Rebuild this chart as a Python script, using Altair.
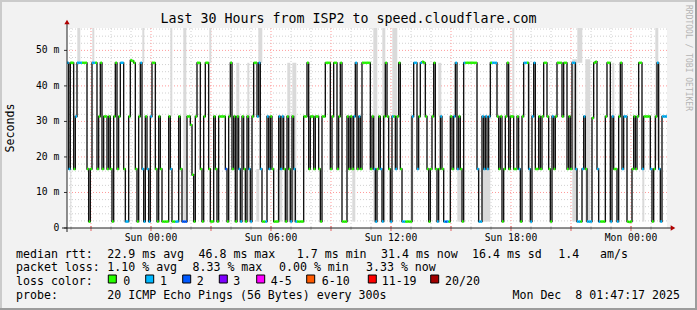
import altair as alt
import pandas as pd

# ---------------- data ----------------
# median RTT per 300 s sample (ms), 360 samples = 30 h
median_ms = [
    46.5, 16.6, 46.5, 46.5, 16.6, 31.4, 46.5, 46.5, 46.5, 46.5,
    46.5, 46.5, 16.6, 1.8, 16.6, 46.5, 46.5, 46.5, 16.6, 31.4,
    46.5, 16.6, 31.4, 31.4, 16.6, 31.4, 16.6, 1.8, 31.4, 46.5,
    16.6, 31.4, 46.5, 46.5, 16.6, 1.8, 1.8, 31.4, 47.2, 47.0,
    46.5, 16.6, 1.8, 31.4, 46.5, 16.6, 1.8, 31.4, 16.6, 1.8,
    31.4, 46.5, 46.5, 16.6, 1.8, 31.4, 16.6, 1.8, 1.8, 1.8,
    1.8, 31.4, 16.6, 1.8, 1.8, 1.8, 1.8, 31.4, 16.6, 1.8,
    1.8, 1.8, 31.4, 31.4, 29.0, 15.0, 1.8, 31.4, 46.5, 46.5,
    16.6, 1.8, 31.4, 46.5, 46.5, 16.6, 1.8, 1.8, 31.4, 16.6,
    1.8, 31.4, 31.4, 31.4, 31.4, 16.6, 1.8, 31.4, 46.5, 16.6,
    31.4, 1.8, 31.4, 16.6, 1.8, 31.4, 16.6, 1.8, 31.4, 16.6,
    1.8, 31.4, 46.5, 46.5, 31.4, 46.5, 16.6, 1.8, 1.8, 1.8,
    31.4, 16.6, 31.4, 16.6, 1.8, 1.8, 1.8, 31.4, 16.6, 31.4,
    16.6, 1.8, 31.4, 16.6, 1.8, 31.4, 16.6, 1.8, 1.8, 1.8,
    1.8, 1.8, 31.4, 31.4, 46.5, 16.6, 31.4, 31.4, 16.6, 31.4,
    31.4, 16.6, 1.8, 31.4, 31.4, 46.5, 46.5, 46.5, 16.6, 31.4,
    46.5, 46.5, 16.6, 31.4, 46.5, 1.8, 1.8, 1.8, 31.4, 16.6,
    31.4, 16.6, 31.4, 46.5, 16.6, 31.4, 16.6, 46.5, 46.5, 46.5,
    46.5, 46.5, 16.6, 31.4, 16.6, 1.8, 16.6, 31.4, 16.6, 1.8,
    31.4, 46.5, 31.4, 16.6, 1.8, 31.4, 31.4, 16.6, 31.4, 46.5,
    16.6, 1.8, 1.8, 1.8, 1.8, 1.8, 1.8, 31.4, 46.5, 46.5,
    16.6, 31.4, 46.5, 46.8, 46.5, 31.4, 16.6, 1.8, 16.6, 31.4,
    46.5, 16.6, 1.8, 16.6, 31.4, 16.6, 1.8, 1.8, 1.8, 1.8,
    31.4, 16.6, 31.4, 46.5, 16.6, 31.4, 16.6, 1.8, 46.5, 46.5,
    46.5, 46.5, 46.5, 46.5, 46.5, 46.5, 16.6, 1.8, 1.8, 31.4,
    16.6, 31.4, 16.6, 31.4, 46.5, 46.5, 46.5, 46.5, 31.4, 16.6,
    31.4, 1.8, 16.6, 31.4, 46.5, 16.6, 31.4, 31.4, 16.6, 16.6,
    31.4, 16.6, 1.8, 31.4, 46.5, 46.5, 46.5, 16.6, 1.8, 31.4,
    46.5, 16.6, 16.6, 31.4, 16.6, 31.4, 46.5, 46.5, 31.4, 16.6,
    1.8, 31.4, 16.6, 31.4, 46.5, 46.5, 46.5, 31.4, 46.5, 46.5,
    16.6, 31.4, 16.6, 46.5, 46.5, 16.6, 1.8, 1.8, 1.8, 16.6,
    31.4, 16.6, 1.8, 1.8, 1.8, 31.0, 46.5, 46.8, 16.6, 1.8,
    1.8, 1.8, 1.8, 31.4, 46.5, 46.5, 1.8, 31.4, 16.6, 16.6,
    1.8, 31.4, 46.5, 16.6, 31.4, 31.4, 1.8, 1.7, 1.8, 16.6,
    31.4, 16.6, 31.4, 46.5, 46.5, 16.6, 31.4, 31.4, 31.4, 31.4,
    16.6, 1.8, 16.6, 31.4, 46.5, 16.6, 1.8, 31.4, 31.4, 31.4,
]

# lost pings (of 20) per sample
loss_count = [
    1, 1, 0, 0, 0, 1, 1, 1, 1, 0,
    0, 0, 0, 0, 0, 1, 1, 0, 0, 0,
    0, 0, 0, 0, 0, 0, 0, 0, 0, 0,
    0, 0, 1, 1, 0, 1, 1, 0, 0, 0,
    0, 0, 0, 0, 1, 1, 1, 0, 1, 1,
    1, 0, 0, 0, 0, 0, 0, 0, 0, 0,
    0, 0, 1, 0, 0, 1, 1, 0, 0, 2,
    2, 2, 0, 0, 0, 0, 0, 0, 0, 0,
    0, 0, 0, 0, 0, 0, 0, 0, 0, 0,
    0, 0, 0, 0, 0, 2, 0, 0, 0, 0,
    0, 0, 0, 1, 1, 0, 0, 0, 0, 1,
    1, 0, 0, 0, 1, 1, 1, 0, 0, 1,
    1, 1, 0, 0, 0, 0, 0, 1, 1, 1,
    0, 0, 0, 0, 1, 0, 1, 1, 0, 0,
    0, 0, 0, 0, 0, 0, 0, 0, 0, 0,
    0, 0, 0, 0, 0, 0, 0, 0, 0, 0,
    0, 0, 0, 0, 0, 0, 0, 0, 0, 0,
    0, 0, 1, 1, 0, 1, 0, 0, 0, 0,
    0, 0, 0, 0, 1, 1, 0, 0, 1, 1,
    0, 0, 0, 0, 1, 1, 0, 1, 0, 0,
    0, 1, 1, 0, 0, 0, 0, 1, 1, 1,
    1, 0, 1, 0, 0, 0, 0, 0, 0, 0,
    0, 0, 1, 0, 1, 0, 1, 2, 1, 0,
    0, 0, 1, 1, 1, 0, 0, 0, 1, 0,
    0, 0, 0, 0, 0, 0, 1, 1, 1, 1,
    1, 1, 1, 1, 0, 1, 1, 1, 0, 0,
    0, 0, 0, 0, 0, 0, 0, 0, 0, 0,
    0, 1, 0, 0, 1, 1, 0, 1, 1, 1,
    1, 0, 0, 0, 0, 0, 0, 0, 0, 0,
    0, 1, 0, 0, 0, 0, 0, 0, 0, 0,
    0, 0, 0, 1, 1, 1, 1, 1, 0, 1,
    1, 0, 1, 1, 1, 0, 0, 0, 1, 1,
    0, 0, 0, 0, 0, 0, 1, 1, 0, 0,
    1, 0, 0, 1, 1, 1, 0, 0, 0, 0,
    0, 0, 0, 0, 0, 1, 0, 0, 0, 0,
    1, 0, 0, 0, 1, 1, 1, 1, 1, 1,
]

start_hour = -4.2            # Sat 19:48, hours relative to Sun 00:00
step_hours = 300 / 3600      # one sample every 300 s

# smoke (spread of the 20 pings) visible as light grey strips
smoke_start_h = [-3.685, -2.935, -0.435, 0.965, 1.615, 2.915, -4.035, 4.265, 4.815, 5.365, 5.265,
                 6.315, 6.815, 7.065, 10.065, 11.115, 11.565, 12.065, 12.965, 14.365, 15.315,
                 16.565, 18.065, 18.815, 21.065, 21.315, 21.715, 23.065, 24.565, 25.215]
smoke_end_h = [-3.535, -2.835, -0.335, 1.065, 1.765, 3.015, -3.985, 4.415, 4.915, 5.565, 5.415,
               6.565, 6.965, 7.265, 10.215, 11.315, 11.715, 12.315, 13.115, 14.515, 15.515,
               16.965, 18.165, 18.915, 21.315, 21.565, 21.965, 23.165, 24.665, 25.365]
smoke_lo_ms = [46.5, 46.5, 46.5, 31.4, 1.8, 46.5, 1.8, 16.6, 1.8, 46.5, 1.8,
               1.8, 1.8, 1.8, 1.8, 1.8, 1.8, 31.4, 1.8, 31.4, 1.8,
               1.8, 31.4, 16.6, 1.8, 46.5, 1.8, 16.6, 1.8, 19.0]
smoke_hi_ms = [56.3, 56.3, 56.3, 56.3, 56.3, 56.3, 16.6, 46.5, 46.5, 56.3, 16.6,
               16.6, 46.5, 46.5, 16.6, 56.3, 56.3, 56.3, 31.4, 46.5, 16.6,
               16.6, 56.3, 46.5, 47.5, 56.3, 47.5, 46.5, 16.6, 56.3]

loss_labels = ["0", "1", "2", "3", "4-5", "6-10", "11-19", "20/20"]
loss_colors = ["#26ff00", "#00b8ff", "#0059ff", "#7e00ff", "#ff00ff", "#ff5a00", "#ff0000", "#a10000"]

x_tick_hours = [0, 6, 12, 18, 24]
x_tick_labels = ["Sun 00:00", "Sun 06:00", "Sun 12:00", "Sun 18:00", "Mon 00:00"]
y_tick_ms = [0, 10, 20, 30, 40, 50]
y_tick_labels = ["0  ", "10 m", "20 m", "30 m", "40 m", "50 m"]

title_text = "Last 30 Hours from ISP2 to speed.cloudflare.com"
rtt_stats = ["22.9 ms avg", "46.8 ms max", "1.7 ms min", "31.4 ms now", "16.4 ms sd", "1.4", "am/s"]
loss_stats = ["1.10 % avg", "8.33 % max", "0.00 % min", "3.33 % now"]
probe_text = "20 ICMP Echo Pings (56 Bytes) every 300s"
stamp_text = "Mon Dec  8 01:47:17 2025"

# ---------------- layout (pixels in the 697x310 canvas) ----------------
OX, OY = 67, 28
W, H = 600, 200
MONO = "DejaVu Sans Mono"
rtt_x = [107.3, 198.5, 296.8, 381.0, 472.0, 558.3, 600.0]
loss_x = [107.3, 192.5, 279.0, 366.0]
swatch_x = [108.3, 145.7, 182.7, 219.3, 256.7, 306.7, 368.3, 430.7]
swatch_label_x = [123.3, 160, 196.7, 233.3, 270.7, 321.7, 381.7, 445]
line_y = [254.5, 268.3, 281.8, 295.7]

# ---------------- frames ----------------
n = len(median_ms)
t = [start_hour + i * step_hours for i in range(n)]
samples = pd.DataFrame({
    "t": t,
    "t2": [v + step_hours for v in t],
    "ms": median_ms,
    "loss": [loss_labels[c] for c in loss_count],
})
line_df = pd.DataFrame({"t": t + [start_hour + n * step_hours],
                        "ms": median_ms + [median_ms[-1]]})
smoke_df = pd.DataFrame({"h0": smoke_start_h, "h1": smoke_end_h,
                         "lo": smoke_lo_ms, "hi": smoke_hi_ms})
xlab_df = pd.DataFrame({"h": x_tick_hours, "lab": x_tick_labels})
ylab_df = pd.DataFrame({"v": y_tick_ms, "lab": [s.replace(" ", "\u00a0") for s in y_tick_labels]})

xs = alt.Scale(domain=[start_hour, start_hour + 30], nice=False, zero=False)
ys = alt.Scale(domain=[0, 56.3], nice=False, zero=True)

minor_v = pd.DataFrame({"h": [h for h in range(-4, 26) if h % 3 != 0]})
major_v = pd.DataFrame({"h": list(range(-3, 26, 3))})
minor_h = pd.DataFrame({"v": [v for v in range(2, 57, 2) if v % 10 != 0]})
major_h = pd.DataFrame({"v": [10, 20, 30, 40, 50]})

one = pd.DataFrame({"k": [0]})

X = lambda f: alt.X(f, scale=xs, axis=None)
Y = lambda f: alt.Y(f, scale=ys, axis=None)

layers = []
layers.append(alt.Chart(minor_h).mark_rule(color="#d0d0d0", strokeDash=[1, 2], strokeWidth=1)
              .encode(y=Y("v:Q")))
layers.append(alt.Chart(minor_v).mark_rule(color="#d0d0d0", strokeDash=[1, 2], strokeWidth=1)
              .encode(x=X("h:Q")))
layers.append(alt.Chart(major_h).mark_rule(color="#ff9a9a", strokeDash=[1, 2], strokeWidth=1)
              .encode(y=Y("v:Q")))
layers.append(alt.Chart(major_v).mark_rule(color="#ff9a9a", strokeDash=[1, 2], strokeWidth=1)
              .encode(x=X("h:Q")))

layers.append(alt.Chart(smoke_df).mark_rect(color="#dadada")
              .encode(x=X("h0:Q"), x2="h1:Q", y=Y("lo:Q"), y2="hi:Q"))

layers.append(alt.Chart(line_df).mark_line(interpolate="step-after", color="#111111", strokeWidth=1.35)
              .encode(x=X("t:Q"), y=Y("ms:Q")))

layers.append(alt.Chart(samples).mark_rule(strokeWidth=2.5)
              .encode(x=X("t:Q"), x2="t2:Q", y=Y("ms:Q"),
                      color=alt.Color("loss:N", scale=alt.Scale(domain=loss_labels, range=loss_colors),
                                      legend=None)))

# axis ticks
layers.append(alt.Chart(minor_v).mark_rule(color="#b8b8b8")
              .encode(x=X("h:Q"), y=alt.value(H - 1), y2=alt.value(H + 2)))
layers.append(alt.Chart(major_v).mark_rule(color="#e06060")
              .encode(x=X("h:Q"), y=alt.value(H - 2), y2=alt.value(H + 3)))
layers.append(alt.Chart(pd.DataFrame({"v": y_tick_ms})).mark_rule(color="#303030")
              .encode(y=Y("v:Q"), x=alt.value(-3), x2=alt.value(0)))

# tick labels
layers.append(alt.Chart(xlab_df).mark_text(font=MONO, fontSize=9.7, color="#000000",
                                           align="center", baseline="middle")
              .encode(x=X("h:Q"), y=alt.value(H + 9.7), text="lab:N"))
layers.append(alt.Chart(ylab_df).mark_text(font=MONO, fontSize=9.7, color="#000000",
                                           align="right", baseline="middle")
              .encode(y=Y("v:Q"), x=alt.value(-7.7), text="lab:N"))

# axis lines with arrows
layers.append(alt.Chart(one).mark_rule(color="#202020", strokeWidth=1)
              .encode(x=alt.value(-5), x2=alt.value(605), y=alt.value(H)))
layers.append(alt.Chart(one).mark_rule(color="#202020", strokeWidth=1)
              .encode(x=alt.value(0), y=alt.value(-5), y2=alt.value(H + 4)))
layers.append(alt.Chart(one).mark_point(shape="triangle-right", filled=True, size=28, color="#b00000", opacity=1)
              .encode(x=alt.value(606), y=alt.value(H)))
layers.append(alt.Chart(one).mark_point(shape="triangle-up", filled=True, size=28, color="#b00000", opacity=1)
              .encode(x=alt.value(0), y=alt.value(-6)))


def txt(s, x, y, size=11.6, align="left", color="#000000", angle=0):
    return alt.Chart(one).mark_text(
        text=s.replace(" ", "\u00a0"), align=align, baseline="middle", font=MONO,
        fontSize=size, color=color, angle=angle
    ).encode(x=alt.value(x - OX), y=alt.value(y - OY))


layers.append(txt(title_text, 348.5, 19, size=13.3, align="center"))
layers.append(txt("Seconds", 10.5, 128, size=11.6, align="center", angle=270))
layers.append(txt("RRDTOOL / TOBI OETIKER", 688, 58, size=8, align="center", color="#b4b4b4", angle=90))

layers.append(txt("median rtt:", 16, line_y[0]))
for s, x in zip(rtt_stats, rtt_x):
    layers.append(txt(s, x, line_y[0]))
layers.append(txt("packet loss:", 16, line_y[1]))
for s, x in zip(loss_stats, loss_x):
    layers.append(txt(s, x, line_y[1]))
layers.append(txt("loss color:", 16, line_y[2]))
for lab, col, sx, lx in zip(loss_labels, loss_colors, swatch_x, swatch_label_x):
    layers.append(alt.Chart(one).mark_rect(fill=col, stroke="#000000", strokeWidth=1)
                  .encode(x=alt.value(sx - OX), x2=alt.value(sx + 8 - OX),
                          y=alt.value(275 - OY), y2=alt.value(283 - OY)))
    layers.append(txt(lab, lx, line_y[2]))
layers.append(txt("probe:", 16, line_y[3]))
layers.append(txt(probe_text, 107.3, line_y[3]))
layers.append(txt(stamp_text, 680, line_y[3], align="right"))

# frame shading
layers.append(alt.Chart(one).mark_rect(color="#9c9c9c")
              .encode(x=alt.value(-OX), x2=alt.value(697 - OX), y=alt.value(308 - OY), y2=alt.value(310 - OY)))
layers.append(alt.Chart(one).mark_rect(color="#9c9c9c")
              .encode(x=alt.value(695 - OX), x2=alt.value(697 - OX), y=alt.value(-OY), y2=alt.value(310 - OY)))
layers.append(alt.Chart(one).mark_rect(color="#cbcbcb")
              .encode(x=alt.value(-OX), x2=alt.value(695 - OX), y=alt.value(-OY), y2=alt.value(2 - OY)))
layers.append(alt.Chart(one).mark_rect(color="#cbcbcb")
              .encode(x=alt.value(-OX), x2=alt.value(2 - OX), y=alt.value(-OY), y2=alt.value(308 - OY)))

chart = alt.layer(*layers).properties(
    width=W, height=H,
    autosize=alt.AutoSizeParams(type="none"),
    padding={"left": OX, "top": OY, "right": 697 - OX - W, "bottom": 310 - OY - H},
    background="#f2f2f2",
).configure_view(fill="#ffffff", stroke=None)

chart.save("out.html", embed_options={"renderer": "svg", "actions": False})
